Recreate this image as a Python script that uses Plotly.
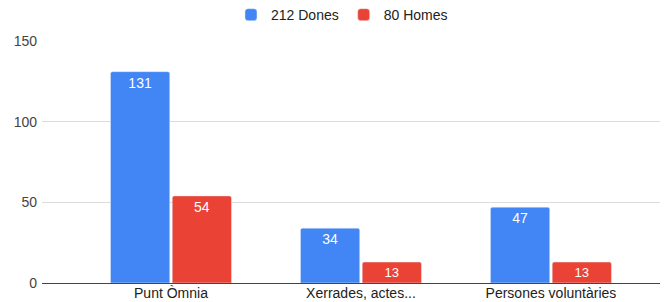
import plotly.graph_objects as go

categories = ["Punt Òmnia", "Xerrades, actes...", "Persones voluntàries"]
dones = [131, 34, 47]
homes = [54, 13, 13]
series_names = ["212 Dones", "80 Homes"]
y_ticks = [0, 50, 100, 150]

FONT = "Liberation Sans, Arial, sans-serif"

fig = go.Figure()
fig.add_trace(go.Bar(x=categories, y=dones, name=series_names[0], marker_color="#4285F4",
                     text=dones, textposition="inside", insidetextanchor="end",
                     textfont=dict(color="white", size=14), textangle=0))
fig.add_trace(go.Bar(x=categories, y=homes, name=series_names[1], marker_color="#EA4335",
                     text=homes, textposition="inside", insidetextanchor="end",
                     textfont=dict(color="white", size=14), textangle=0))

# The page body has an 8px margin, so the figure is offset by 8px right and down.
fig.update_layout(
    width=672, height=302,
    margin=dict(l=34, r=20, t=33, b=27, autoexpand=False),
    paper_bgcolor="white", plot_bgcolor="white",
    font=dict(family=FONT, size=14, color="#222"),
    barmode="group", bargap=0.35, bargroupgap=0.04, barcornerradius=2,
    legend=dict(orientation="h", x=0.497, xref="container", xanchor="center",
                y=1.107, yref="paper", yanchor="middle",
                font=dict(size=14, color="#222"), traceorder="normal"),
    xaxis=dict(range=[-0.679, 2.574], showgrid=False, ticks="", showline=False,
               tickfont=dict(size=14, color="#222"), automargin=False),
    yaxis=dict(range=[0, 150], tickvals=y_ticks, showgrid=True, gridcolor="#dcdcdc",
               zeroline=True, zerolinecolor="#444", zerolinewidth=1,
               tickfont=dict(size=14, color="#444"), ticks="", showline=False,
               automargin=False, ticklabelstandoff=4),
    showlegend=True,
)
fig.write_html("out.html")
